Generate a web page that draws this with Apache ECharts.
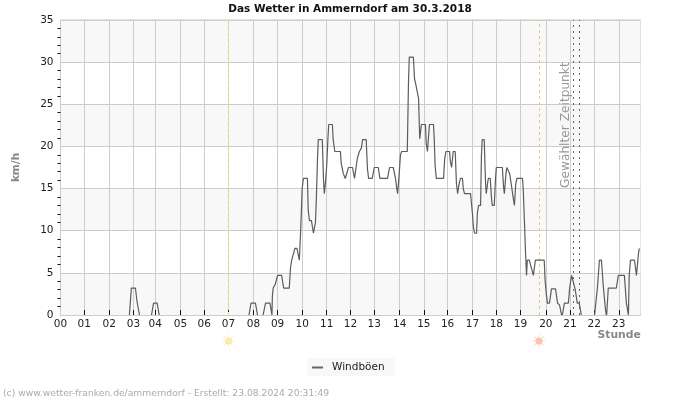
<!DOCTYPE html>
<html><head><meta charset="utf-8">
<script src="https://cdn.jsdelivr.net/npm/echarts@6/dist/echarts.min.js"></script>
<style>html,body{margin:0;padding:0;background:#fff}#c{width:700px;height:400px}</style>
</head><body><div id="c"></div>
<script>
const hourLabels = ['00','01','02','03','04','05','06','07','08','09','10','11','12','13','14','15','16','17','18','19','20','21','22','23'];
const hourSlots = [0,59,121,181,235,298,357,417,479,539,600,661,720,779,842,902,961,1023,1082,1142,1205,1265,1325,1386];
const windSlots = [
171,176,186,190,196,null,
226,231,240,245,null,
468,473,484,489,null,
503,509,520,525,526,528,533,539,549,554,568,571,574,582,587,593,596,598,600,603,613,615,618,623,628,633,635,638,640,650,653,655,658,661,664,666,675,677,681,695,697,702,707,710,715,725,730,734,737,742,747,750,759,762,765,774,779,789,793,812,817,826,831,835,837,841,844,847,861,862,864,866,876,879,882,886,889,891,892,896,906,908,911,916,926,928,930,933,951,954,957,966,968,971,975,980,983,986,989,993,998,1000,1003,1018,1020,1023,1025,1028,1033,1035,1038,1043,1045,1047,1052,1055,1057,1062,1067,1070,1072,1077,1080,1082,1097,1100,1102,1106,1108,1112,1115,1117,1121,1124,1127,1130,1133,1147,1149,1152,1154,1157,1159,1164,1169,1174,1179,1201,1203,1206,1209,1214,1219,1229,1234,1239,1244,null,
1246,1251,1261,1264,1269,1273,1278,1283,1288,1293,null,
1326,1333,1338,1343,1348,1353,1355,null,
1356,1360,1380,1385,1400,1405,1410,1412,1415,1425,1430,1435,1437];
const windKmh = [
0,3.2,3.2,1.6,0,null,
0,1.4,1.4,0,null,
0,1.4,1.4,0,null,
0,1.4,1.4,0,2.2,3.2,3.6,4.7,4.7,3.2,3.2,5.6,6.5,7.9,7.9,6.5,9.7,12.3,15,16.2,16.2,12.5,11.2,11.2,9.7,11,13.5,18.4,20.8,20.8,16,14.4,15.8,17.8,21,22.6,22.6,20.8,19.4,19.4,18,16.8,16.2,16.2,17.5,17.5,16.2,16.2,18.6,19.4,19.8,20.8,20.8,17.4,16.2,16.2,17.5,17.5,16.2,16.2,17.5,17.5,16.4,15,14.4,16.8,19,19.4,19.4,22.2,27.7,30.6,30.6,28,27.4,27.4,25.7,22.3,20.9,22.6,22.6,20.4,19.4,22.6,22.6,20.8,17.8,16.2,16.2,18.6,19.4,19.4,18.2,17.5,19.4,19.4,15.6,14.4,15.4,16.2,16.2,15,14.4,14.4,13.4,11.9,10.5,9.7,9.7,12.1,13,13,18.8,20.8,20.8,16,14.4,16.2,16.2,13.9,13,13,16.2,17.5,17.5,15.2,14.4,16.8,17.5,17.5,16.8,16.2,16.2,13.9,13,15.4,16.2,16.2,14.8,10.9,8.1,4.7,6.5,6.5,5.6,4.7,6.5,6.5,4.2,2.6,1.4,1.4,3.1,3.1,1.4,1.2,0,null,
0,1.4,1.4,3.2,4.7,4.7,3,1.4,1.4,0,null,
0,3.2,6.5,6.5,3.2,0.7,0,null,
0,3.2,3.2,4.7,4.7,1.4,0,4.7,6.5,6.5,4.7,7.3,7.9];
const sunriseSlot = 417;
const sunsetSlot = 1188;
const selectedSlots = [1274, 1289];
const sunRow = -3.08;
const titleText = 'Das Wetter in Ammerndorf am 30.3.2018';
const seriesName = 'Windböen';
const selectedLabel = 'Gewählter Zeitpunkt';
const footerText = '(c) www.wetter-franken.de/ammerndorf - Erstellt: 23.08.2024 20:31:49';

const FONT = '"DejaVu Sans"';
const RAYS = 'path://M9.4 0h1.2v5h-1.2zM9.4 15h1.2v5h-1.2zM0 9.4h5v1.2h-5zM15 9.4h5v1.2h-5zM2.5 3.4l.9-.9 3.4 3.4-.9.9zM13.2 14.1l.9-.9 3.4 3.4-.9.9zM2.5 16.6l3.4-3.4.9.9-3.4 3.4zM13.2 5.9l3.4-3.4.9.9-3.4 3.4z';
const chart = echarts.init(document.getElementById('c'), null, {renderer:'canvas'});
chart.setOption({
  animation:false,
  backgroundColor:'#fff',
  textStyle:{fontFamily:FONT},
  title:{text:titleText,left:'center',top:-1,itemGap:0,
    textStyle:{fontFamily:FONT,fontSize:10.5,fontWeight:'bold',color:'#111'}},
  legend:{data:[{name:seriesName,icon:'rect'}],left:307,top:358,padding:[4,10,3,5],itemWidth:11,itemHeight:2,itemGap:0,
    backgroundColor:'#f8f8f8',selectedMode:false,
    textStyle:{fontFamily:FONT,fontSize:10.5,color:'#222',padding:[0,0,0,4]}},
  grid:{left:60.5,right:59.5,top:20,bottom:85,show:true,borderColor:'#ccc',borderWidth:1,backgroundColor:'transparent'},
  xAxis:{type:'value',min:0,max:1440,
    name:'Stunde',nameLocation:'end',nameGap:-43,
    nameTextStyle:{color:'#888',fontWeight:'bold',fontSize:10.8,fontFamily:FONT,padding:[15,0,0,0],verticalAlign:'top'},
    axisLine:{show:true,onZero:false,lineStyle:{color:'#ccc',width:1}},
    axisTick:{show:true,inside:true,length:5,lineStyle:{color:'#111',width:1},customValues:hourSlots.slice(1)},
    axisLabel:{margin:4,fontSize:10.5,color:'#222',fontFamily:FONT,customValues:hourSlots,
      formatter:v=>hourLabels[hourSlots.indexOf(v)]},
    splitLine:{show:true,lineStyle:{color:'#ccc',width:1}},
    minorTick:{show:false}},
  yAxis:{type:'value',min:0,max:35,interval:5,
    name:'km/h',nameLocation:'middle',nameGap:39,nameRotate:90,
    nameTextStyle:{color:'#888',fontWeight:'bold',fontSize:10.5,fontFamily:FONT},
    axisLine:{show:true,lineStyle:{color:'#ccc',width:1}},
    axisTick:{show:false},
    minorTick:{show:true,splitNumber:5,length:3,lineStyle:{color:'#111',width:1}},
    axisLabel:{margin:7,fontSize:10.5,color:'#222',fontFamily:FONT},
    splitLine:{show:true,lineStyle:{color:'#ccc',width:1}},
    splitArea:{show:true,areaStyle:{color:['#f8f8f8','#ffffff']}}},
  graphic:[
    {type:'text',z:10,x:560,y:188,rotation:Math.PI/2,silent:true,
      style:{text:selectedLabel,fontFamily:FONT,fontSize:12.2,fill:'#999',verticalAlign:'top'}},
    {type:'text',z:10,x:3,y:389,silent:true,
      style:{text:footerText,fontFamily:FONT,fontSize:9.2,fill:'#aaa'}}
  ],
  series:[
    {name:seriesName,type:'line',showSymbol:false,connectNulls:false,
      data:windSlots.map((m,i)=>m===null?[null,null]:[m,windKmh[i]]),
      lineStyle:{color:'#5c5c5c',width:1.2},itemStyle:{color:'#666'},z:5,
      markLine:{silent:true,symbol:'none',animation:false,label:{show:false},
        data:[
          {xAxis:sunriseSlot,lineStyle:{color:'#f0e468',type:[3,3],width:1}},
          {xAxis:sunsetSlot,lineStyle:{color:'#f5c47c',type:[3,3],width:1}},
          {xAxis:selectedSlots[0],lineStyle:{color:'#666',type:[2,4],width:1}},
          {xAxis:selectedSlots[1],lineStyle:{color:'#666',type:[2,4],width:1}}
        ]}},
    {name:'sunRays',type:'scatter',clip:false,silent:true,symbol:RAYS,symbolSize:13,z:6,
      data:[{value:[sunriseSlot,sunRow],itemStyle:{color:'#fde7a8'}},{value:[sunsetSlot,sunRow],itemStyle:{color:'#fdc5b5'}}]},
    {name:'sunCore',type:'scatter',clip:false,silent:true,symbol:'circle',symbolSize:7,z:7,
      data:[{value:[sunriseSlot,sunRow],itemStyle:{color:'#fde69a'}},{value:[sunsetSlot,sunRow],itemStyle:{color:'#fdb49e'}}]}
  ]
});
</script></body></html>
